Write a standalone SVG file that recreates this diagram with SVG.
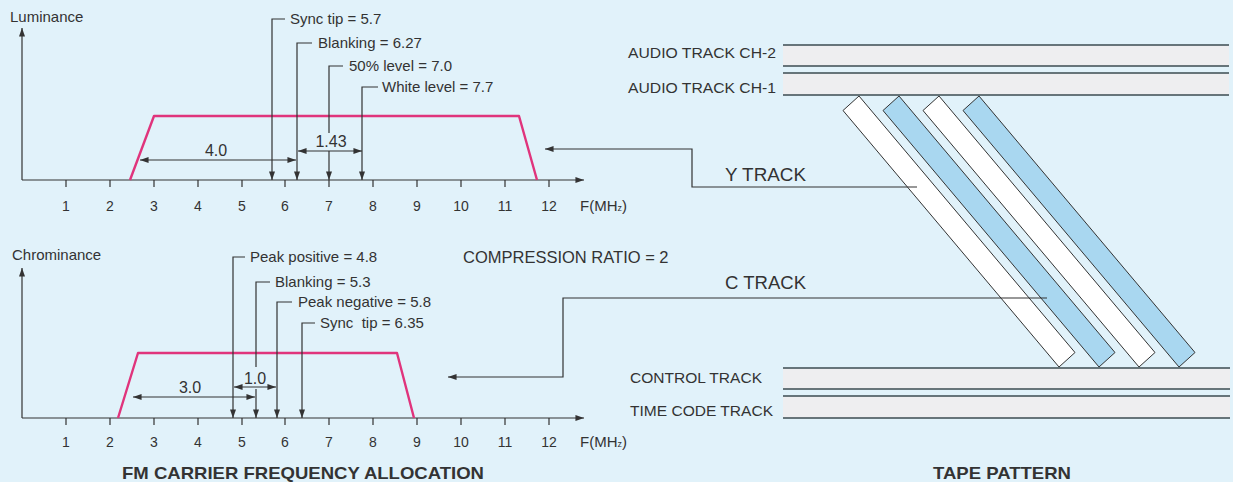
<svg xmlns="http://www.w3.org/2000/svg" width="1233" height="482" viewBox="0 0 1233 482">
<defs>
<marker id="ah" viewBox="0 0 10 7" refX="10" refY="3.5" markerWidth="9" markerHeight="6" markerUnits="userSpaceOnUse" orient="auto-start-reverse">
<path d="M0,0 L10,3.5 L0,7 z" fill="#333"/>
</marker>
<style>
text{font-family:"Liberation Sans",Arial,sans-serif;fill:#333}
.lbl{font-size:15px}
.tk{font-size:14px;text-anchor:middle}
.dim{font-size:16px;text-anchor:middle}
.big{font-size:18px}
.trk{font-size:15px}
.ttl{font-size:17px;font-weight:bold}
.ln{stroke:#333;stroke-width:1.2;fill:none}
.ar{stroke:#333;stroke-width:1.2;fill:none;marker-end:url(#ah)}
.dd{stroke:#333;stroke-width:1.2;fill:none;marker-start:url(#ah);marker-end:url(#ah)}
.pk{stroke:#e0347c;stroke-width:2.4;fill:none;stroke-linejoin:round}
.tl{stroke:#3c4c52;stroke-width:1.3}
.band{fill:#eeeef0}
.st{stroke:#333;stroke-width:1}
</style>
</defs>
<rect width="1233" height="482" fill="#e1f2fa"/>

<g id="lum-graph">
<text class="lbl" x="10" y="22">Luminance</text>
<path class="ar" d="M22,180 V28"/>
<path class="ar" d="M22,180 H584"/>
<path class="ln" d="M66,180v7M110,180v7M154,180v7M198,180v7M242,180v7M285,180v7M329,180v7M373,180v7M417,180v7M461,180v7M505,180v7M549,180v7"/>
<text class="tk" x="66" y="211">1</text><text class="tk" x="110" y="211">2</text><text class="tk" x="154" y="211">3</text><text class="tk" x="198" y="211">4</text><text class="tk" x="242" y="211">5</text><text class="tk" x="285" y="211">6</text><text class="tk" x="329" y="211">7</text><text class="tk" x="373" y="211">8</text><text class="tk" x="417" y="211">9</text><text class="tk" x="461" y="211">10</text><text class="tk" x="505" y="211">11</text><text class="tk" x="549" y="211">12</text>
<text class="lbl" x="580" y="211">F(MH<tspan font-size="9">z</tspan>)</text>
<path class="pk" d="M130,180 L154,116 H519 L537,180"/>
</g>

<g id="lum-markers">
<path class="ar" d="M285,19 H272 V180"/>
<text class="lbl" x="290" y="24">Sync tip = 5.7</text>
<path class="ar" d="M312,43 H297 V180"/>
<text class="lbl" x="318" y="48">Blanking = 6.27</text>
<path class="ln" d="M343,66 H329 V133"/>
<path class="ar" d="M329,151 V180"/>
<text class="lbl" x="349" y="71">50% level = 7.0</text>
<path class="ar" d="M378,87 H362 V180"/>
<text class="lbl" x="382" y="92">White level = 7.7</text>
<path class="dd" d="M140,160 H296"/>
<text class="dim" x="216" y="156">4.0</text>
<path class="dd" d="M298,151 H362"/>
<text class="dim" x="331" y="147">1.43</text>
</g>

<g id="chroma-graph">
<text class="lbl" x="12" y="260">Chrominance</text>
<path class="ar" d="M22,418 V268"/>
<path class="ar" d="M22,418 H584"/>
<path class="ln" d="M66,418v7M110,418v7M154,418v7M198,418v7M242,418v7M285,418v7M329,418v7M373,418v7M417,418v7M461,418v7M505,418v7M549,418v7"/>
<text class="tk" x="66" y="447">1</text><text class="tk" x="110" y="447">2</text><text class="tk" x="154" y="447">3</text><text class="tk" x="198" y="447">4</text><text class="tk" x="242" y="447">5</text><text class="tk" x="285" y="447">6</text><text class="tk" x="329" y="447">7</text><text class="tk" x="373" y="447">8</text><text class="tk" x="417" y="447">9</text><text class="tk" x="461" y="447">10</text><text class="tk" x="505" y="447">11</text><text class="tk" x="549" y="447">12</text>
<text class="lbl" x="580" y="447">F(MH<tspan font-size="9">z</tspan>)</text>
<path class="pk" d="M118,418 L138,353 H397 L414,418"/>
</g>

<g id="chroma-markers">
<path class="ar" d="M245,257 H233 V418"/>
<text class="lbl" x="250" y="262">Peak positive = 4.8</text>
<path class="ln" d="M270,282 H256 V367"/>
<path class="ar" d="M256,389 V418"/>
<text class="lbl" x="275" y="287">Blanking = 5.3</text>
<path class="ar" d="M292,302 H277 V418"/>
<text class="lbl" x="298" y="307">Peak negative = 5.8</text>
<path class="ar" d="M315,323 H302 V418"/>
<text class="lbl" x="320" y="328" xml:space="preserve">Sync  tip = 6.35</text>
<path class="dd" d="M133,397 H255"/>
<text class="dim" x="190" y="393">3.0</text>
<path class="dd" d="M234,387 H276"/>
<text class="dim" x="255" y="384">1.0</text>
</g>

<g id="compression">
<text x="463" y="263" font-size="16.5">COMPRESSION RATIO = 2</text>
</g>

<g id="audio-tracks">
<rect class="band" x="783" y="45" width="446" height="21"/>
<rect class="band" x="783" y="73" width="446" height="22"/>
<path class="tl" d="M783,45H1229M783,66H1229M783,73H1229M783,95H1229"/>
<text class="trk" x="628" y="58" textLength="148" lengthAdjust="spacingAndGlyphs">AUDIO TRACK CH-2</text>
<text class="trk" x="628" y="93" textLength="148" lengthAdjust="spacingAndGlyphs">AUDIO TRACK CH-1</text>
</g>

<g id="lower-tracks">
<rect class="band" x="783" y="368" width="447" height="21"/>
<rect class="band" x="783" y="396" width="447" height="22"/>
<path class="tl" d="M783,368H1230M783,389H1230M783,396H1230M783,418H1230"/>
<text class="trk" x="630" y="383" textLength="132" lengthAdjust="spacingAndGlyphs">CONTROL TRACK</text>
<text class="trk" x="630" y="416" textLength="143" lengthAdjust="spacingAndGlyphs">TIME CODE TRACK</text>
</g>

<g id="helical-tracks">
<polygon class="st" fill="#ffffff" points="843,110.5 859,96 1075,352.5 1059,367"/>
<polygon class="st" fill="#a9d7f0" points="883,110.5 899,96 1115,352.5 1099,367"/>
<polygon class="st" fill="#ffffff" points="923,110.5 939,96 1155,352.5 1139,367"/>
<polygon class="st" fill="#a9d7f0" points="963,110.5 979,96 1195,352.5 1179,367"/>
</g>

<g id="track-labels">
<text class="big" x="725" y="181" textLength="81" lengthAdjust="spacingAndGlyphs">Y TRACK</text>
<text class="big" x="725" y="289" textLength="81" lengthAdjust="spacingAndGlyphs">C TRACK</text>
</g>

<g id="titles">
<text class="ttl" x="122" y="479" textLength="362" lengthAdjust="spacingAndGlyphs">FM CARRIER FREQUENCY ALLOCATION</text>
<text class="ttl" x="933" y="479" textLength="138" lengthAdjust="spacingAndGlyphs">TAPE PATTERN</text>
</g>

<g id="connectors">
<path class="ar" d="M917,187 H692 V149 H545"/>
<path class="ar" d="M1047,298 H563 V377 H448"/>
</g>
</svg>
